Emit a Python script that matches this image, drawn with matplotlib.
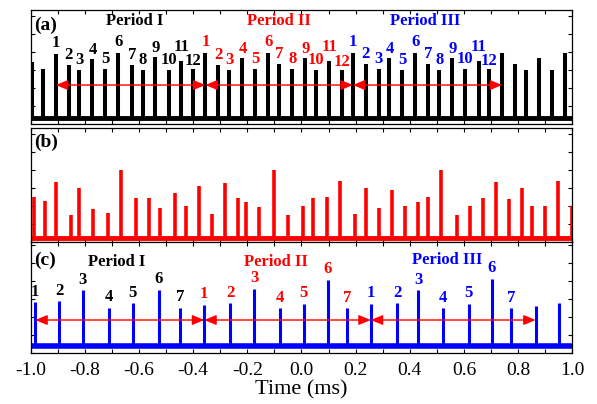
import matplotlib
matplotlib.use('Agg')
import matplotlib.pyplot as plt
from matplotlib.ticker import MultipleLocator, NullFormatter

plt.rcParams['font.family'] = ['Liberation Serif', 'DejaVu Serif']
plt.rcParams['axes.unicode_minus'] = False

# ---------------- data ----------------
# (a) pulse times (ms) and peak amplitudes (a.u.)
t_a = [-0.996, -0.955, -0.907, -0.860, -0.820, -0.772, -0.724, -0.676, -0.626, -0.587,
       -0.540, -0.491, -0.444, -0.402, -0.355, -0.307, -0.267, -0.218, -0.171, -0.122,
       -0.082, -0.034, 0.014, 0.053, 0.102, 0.149, 0.190, 0.238, 0.285, 0.325,
       0.373, 0.421, 0.469, 0.509, 0.557, 0.605, 0.654, 0.693, 0.741, 0.789,
       0.829, 0.876, 0.924, 0.974]
peak_a = [0.69, 0.61, 0.78, 0.66, 0.60, 0.72, 0.61, 0.79, 0.66, 0.60,
          0.74, 0.60, 0.70, 0.61, 0.79, 0.66, 0.60, 0.73, 0.61, 0.79,
          0.67, 0.61, 0.73, 0.60, 0.70, 0.60, 0.79, 0.67, 0.61, 0.73,
          0.60, 0.79, 0.67, 0.60, 0.73, 0.61, 0.70, 0.61, 0.79, 0.67,
          0.60, 0.73, 0.60, 0.79]
base_a = 0.067

# (b)
t_b = [-0.986, -0.946, -0.907, -0.850, -0.820, -0.770, -0.715, -0.667, -0.610, -0.562,
       -0.523, -0.466, -0.427, -0.379, -0.331, -0.283, -0.235, -0.203, -0.155, -0.100,
       -0.050, 0.005, 0.044, 0.093, 0.141, 0.196, 0.237, 0.285, 0.333, 0.381,
       0.429, 0.469, 0.517, 0.573, 0.621, 0.669, 0.717, 0.765, 0.813, 0.853,
       0.901, 0.949, 0.998]
peak_b = [0.49, 0.45, 0.66, 0.29, 0.59, 0.36, 0.32, 0.80, 0.48, 0.48,
          0.37, 0.54, 0.39, 0.62, 0.31, 0.65, 0.48, 0.44, 0.38, 0.79,
          0.30, 0.40, 0.48, 0.49, 0.67, 0.31, 0.60, 0.37, 0.57, 0.39,
          0.44, 0.49, 0.80, 0.30, 0.39, 0.48, 0.66, 0.47, 0.60, 0.39,
          0.39, 0.67, 0.39]
base_b = 0.044

# (c)
t_c = [-0.983, -0.895, -0.807, -0.711, -0.623, -0.527, -0.447,
       -0.359, -0.263, -0.175, -0.079, 0.009, 0.097, 0.168,
       0.256, 0.353, 0.432, 0.522, 0.617, 0.704, 0.775,
       0.865, 0.952]
peak_c = [0.56, 0.57, 0.69, 0.50, 0.55, 0.70, 0.50,
          0.53, 0.55, 0.71, 0.49, 0.54, 0.81, 0.49,
          0.54, 0.55, 0.69, 0.49, 0.54, 0.82, 0.49,
          0.52, 0.55]
base_c = 0.072

period_names = ['Period I', 'Period II', 'Period III']
period_colors = ['black', 'red', 'blue']

start_a = [2, 14, 26, 38]      # index of first pulse of each period (+ end of last)
n_a = 12
start_c = [0, 7, 14, 21]
n_c = 7

arrow_y_a = 0.433
arrow_y_c = 0.361

period_x_a = [-0.615, -0.083, 0.456]
period_y_a = [0.904, 0.904, 0.904]
period_x_c = [-0.681, -0.094, 0.538]
period_y_c = [0.82, 0.815, 0.835]

xticks = [-1.0, -0.8, -0.6, -0.4, -0.2, 0.0, 0.2, 0.4, 0.6, 0.8, 1.0]

# label vertical offsets (points) by pulse number within a period
dy_a = [7.5, 7.0, 7.0, 6.5, 7.0, 7.5, 7.0, 7.0, 6.5, 7.5, 10.0, 5.5]
dy_c = [7.5, 7.5, 7.5, 7.5, 7.5, 7.5, 7.5]

# ---------------- figure ----------------
fig = plt.figure(figsize=(5.97, 4.04), dpi=100)
W, H = 597.0, 404.0
left, right = 30.7, 572.2
boxes = [(10, 124), (127.5, 241.5), (242, 352.5)]
axes = []
for top, bot in boxes:
    ax = fig.add_axes([left / W, 1 - bot / H, (right - left) / W, (bot - top) / H])
    ax.set_xlim(-1.0, 1.0)
    ax.set_ylim(0, (bot - top) / 90.0)
    ax.xaxis.set_major_locator(MultipleLocator(0.2))
    ax.xaxis.set_minor_locator(MultipleLocator(0.1))
    ax.yaxis.set_major_locator(MultipleLocator(0.2))
    ax.yaxis.set_major_formatter(NullFormatter())
    ax.tick_params(axis='both', which='both', direction='in', top=True, right=True,
                   length=3, width=0.8)
    for s in ax.spines.values():
        s.set_linewidth(0.9)
    axes.append(ax)

ax_a, ax_b, ax_c = axes
for ax in (ax_a, ax_b):
    ax.xaxis.set_major_formatter(NullFormatter())

ax_c.set_xticks(xticks)
ax_c.set_xticklabels(['%.1f' % v for v in xticks], fontsize=14)
ax_c.tick_params(axis='x', which='major', pad=7)
ax_c.set_xlabel('Time (ms)', fontsize=16, labelpad=1)

# traces
ax_a.axhline(base_a, color='black', lw=3.5)
ax_a.vlines(t_a, base_a, peak_a, color='black', lw=2.9)
ax_b.axhline(base_b, color='red', lw=3.5)
ax_b.vlines(t_b, base_b, peak_b, color='red', lw=2.6)
ax_c.axhline(base_c, color='blue', lw=4.0)
ax_c.vlines(t_c, base_c, peak_c, color='blue', lw=2.2)

arrow_kw = dict(arrowstyle='<|-|>,head_length=0.6,head_width=0.25', color='red',
                lw=1.0, mutation_scale=12, shrinkA=0, shrinkB=0)

def label_panel(ax, t, peak, starts, n, dy, ay, px, py):
    for p in range(3):
        s = starts[p]
        for k in range(n):
            i = s + k
            ax.annotate(str(k + 1), (t[i], peak[i]), xytext=(0, dy[k]),
                        textcoords='offset points', ha='center', va='center',
                        color=period_colors[p], fontsize=12, fontweight='bold')
        ax.annotate('', xy=(t[starts[p + 1]], ay), xytext=(t[s], ay),
                    arrowprops=arrow_kw)
        ax.text(px[p], py[p], period_names[p], transform=ax.get_xaxis_transform(),
                ha='center', va='center', color=period_colors[p], fontsize=12,
                fontweight='bold')

label_panel(ax_a, t_a, peak_a, start_a, n_a, dy_a, arrow_y_a, period_x_a, period_y_a)
label_panel(ax_c, t_c, peak_c, start_c, n_c, dy_c, arrow_y_c, period_x_c, period_y_c)

for ax, lab, yy in zip(axes, ['(a)', '(b)', '(c)'], [0.868, 0.868, 0.837]):
    ax.text(0.006, yy, lab, transform=ax.transAxes, ha='left', va='center',
            fontsize=14, fontweight='bold')

fig.savefig('out.png', dpi=100)
